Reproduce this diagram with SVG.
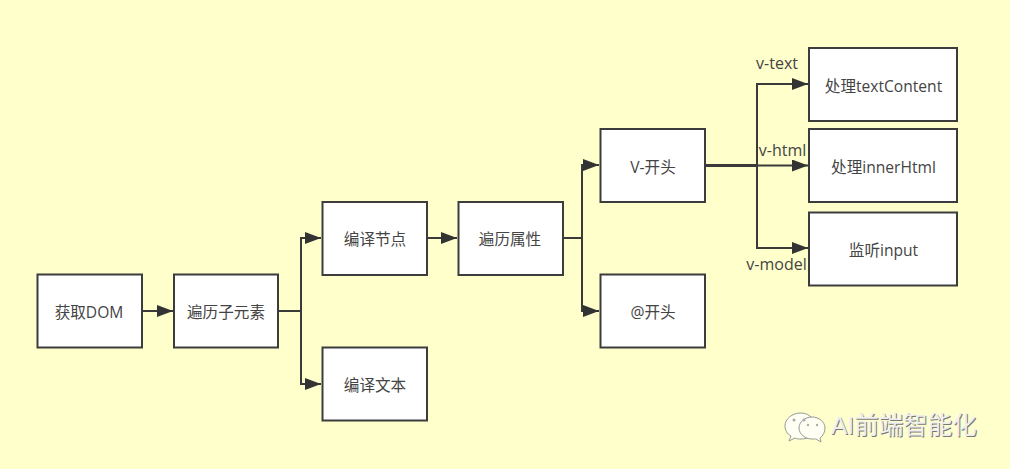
<svg xmlns="http://www.w3.org/2000/svg" width="1010" height="469" viewBox="0 0 1010 469">
<defs>
<style>
.n{fill:#fff;stroke:#3c3c3c;stroke-width:2}
.t{font-family:"Open Sans","Noto Sans CJK SC",sans-serif;font-size:15.600px;fill:#444;text-anchor:middle}
.l{font-family:"Open Sans","Noto Sans CJK SC",sans-serif;font-size:16px;fill:#444;text-anchor:middle}
.c{fill:none;stroke:#3a3a3a;stroke-width:2}
.h{fill:none;stroke:#3a3a3a;stroke-width:3}
.w{font-family:"Liberation Sans","Noto Sans CJK SC",sans-serif;font-size:24.500px}
.b{fill:#fffff4;stroke:#999;stroke-width:1}
</style>
<marker id="a" markerUnits="userSpaceOnUse" markerWidth="16" markerHeight="12" refX="16" refY="6" orient="auto"><path d="M0 0L16 6L0 12Z" fill="#333"/></marker>
</defs>
<rect width="1010" height="469" fill="#ffffcc"/>
<g id="connectors">
<path class="c" marker-end="url(#a)" d="M142 311H173"/>
<path class="c" marker-end="url(#a)" d="M279 311H301V238H321"/>
<path class="c" marker-end="url(#a)" d="M279 311H301V384H321"/>
<path class="c" marker-end="url(#a)" d="M427 238H457"/>
<path class="c" marker-end="url(#a)" d="M563 238H582V165H599"/>
<path class="c" marker-end="url(#a)" d="M563 238H582V311H599"/>
<path class="c" marker-end="url(#a)" d="M705 165.500H757V84H808"/>
<path class="c" marker-end="url(#a)" d="M705 165.500H808"/>
<path class="c" marker-end="url(#a)" d="M705 165.500H757V248H808"/>
<path class="h" d="M705 165.500H757"/>
</g>
<g id="n1"><rect class="n" x="37.500" y="274.500" width="104.500" height="73"/><text class="t" x="89" y="318">获取DOM</text></g>
<g id="n2"><rect class="n" x="174" y="274.500" width="104" height="73"/><text class="t" x="226" y="318">遍历子元素</text></g>
<g id="n3"><rect class="n" x="322.500" y="202" width="104.500" height="73"/><text class="t" x="375" y="245">编译节点</text></g>
<g id="n4"><rect class="n" x="322.500" y="347.500" width="104.500" height="73"/><text class="t" x="375" y="391">编译文本</text></g>
<g id="n5"><rect class="n" x="458.500" y="202" width="104.500" height="73"/><text class="t" x="510" y="245">遍历属性</text></g>
<g id="n6"><rect class="n" x="600.500" y="129" width="104.500" height="73"/><text class="t" x="653" y="173">V-开头</text></g>
<g id="n7"><rect class="n" x="600.500" y="274.500" width="104.500" height="73"/><text class="t" x="653" y="318">@开头</text></g>
<g id="n8"><rect class="n" x="809" y="48" width="148" height="73"/><text class="t" x="883.500" y="92">处理textContent</text></g>
<g id="n9"><rect class="n" x="809" y="129" width="148" height="73"/><text class="t" x="883.500" y="173">处理innerHtml</text></g>
<g id="n10"><rect class="n" x="809" y="212.500" width="148" height="73"/><text class="t" x="883.500" y="256">监听input</text></g>
<text class="l" x="777" y="69">v-text</text>
<text class="l" x="782.500" y="156">v-html</text>
<text class="l" x="776.500" y="270">v-model</text>
<g id="watermark">
<path class="b" d="M801 413c-9 0-16 6-16 13 0 4 2 8 6 10l-2 5 6-3c2 1 4 1 6 1 7 0 13-3 15-9 1-9-6-17-15-17z"/>
<path class="b" d="M812 417c-7 0-13 5-13 11s6 11 13 11c2 0 3 0 4 0l5 3-1-4c3-2 5-6 5-10 0-6-6-11-13-11z"/>
<circle cx="794" cy="420" r="1.500" fill="#aaa"/><circle cx="804" cy="420" r="1.500" fill="#aaa"/>
<circle cx="808" cy="425" r="1.200" fill="#aaa"/><circle cx="817" cy="425" r="1.200" fill="#aaa"/>
<text class="w" x="831" y="434" fill="#777" transform="translate(1 1)">AI前端智能化</text>
<text class="w" x="831" y="434" fill="#eee">AI前端智能化</text>
</g>
</svg>
